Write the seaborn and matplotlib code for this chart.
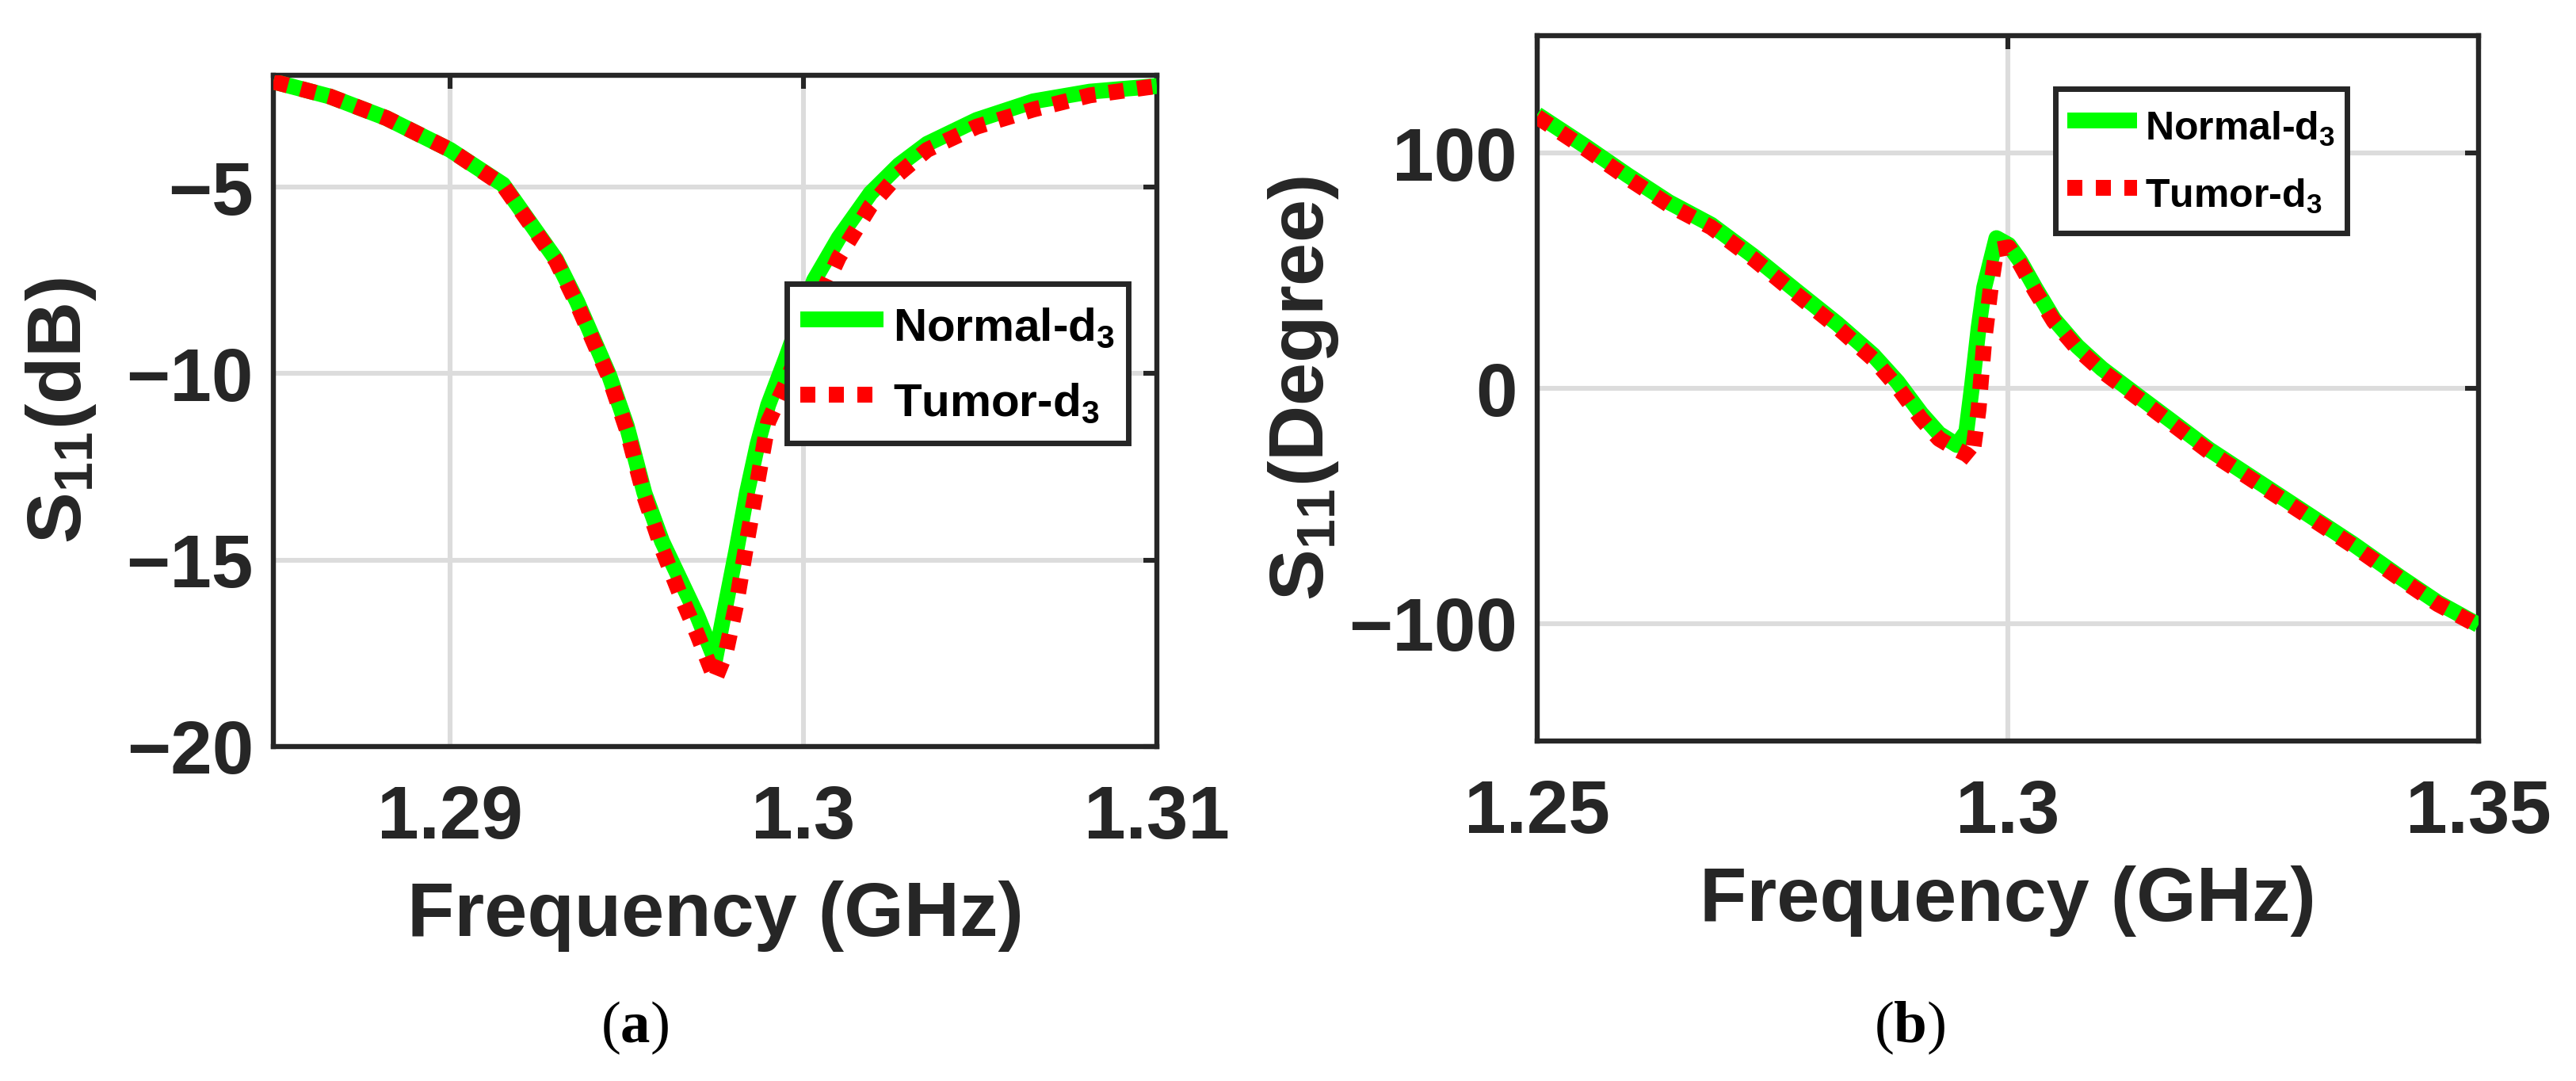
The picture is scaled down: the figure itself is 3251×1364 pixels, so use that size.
import numpy as np
import pandas as pd
import matplotlib
matplotlib.use("Agg")
import matplotlib.pyplot as plt
import seaborn as sns

# ---- data ----
# panel (a): |S11| in dB
freq_a = [1.2850, 1.2866, 1.2882, 1.2900, 1.2915, 1.2930, 1.2936, 1.2945, 1.2950,
          1.2955, 1.2960, 1.2965, 1.2970, 1.2975, 1.2978, 1.2981, 1.2984, 1.2987,
          1.2990, 1.2995, 1.3003, 1.3010, 1.3019, 1.3027, 1.3035, 1.3049, 1.3065,
          1.3081, 1.3100]
normal_a = [-2.17, -2.57, -3.15, -4.0, -4.93, -6.94, -8.08, -10.04, -11.4,
            -13.2, -14.5, -15.5, -16.5, -17.67, -16.2, -14.75, -13.2, -11.9,
            -10.85, -9.6, -7.5, -6.36, -5.16, -4.41, -3.84, -3.2, -2.7,
            -2.44, -2.29]
tumor_a = [-2.17, -2.57, -3.15, -4.0, -4.95, -6.98, -8.15, -10.1, -11.5,
           -13.3, -14.7, -15.9, -17.0, -18.2, -17.5, -16.18, -14.5, -12.9,
           -11.3, -10.27, -8.31, -6.88, -5.5, -4.64, -4.0, -3.38, -2.92,
           -2.54, -2.29]

# panel (b): phase of S11 in degrees
freq_b = [1.2500, 1.2551, 1.2596, 1.2640, 1.2685, 1.2730, 1.2774, 1.2819, 1.2857,
          1.2883, 1.2908, 1.2927, 1.2946, 1.2956, 1.2962, 1.2969, 1.2975, 1.2982,
          1.2988, 1.3001, 1.3013, 1.3029, 1.3049, 1.3074, 1.3100, 1.3138, 1.3176,
          1.3214, 1.3265, 1.3316, 1.3367, 1.3418, 1.3457, 1.3500]
normal_b = [116.5, 103.1, 90.7, 79.2, 69.6, 56.2, 41.9, 27.5, 14.2,
            2.7, -10.7, -19.3, -24.1, -18.4, 0.8, 25.6, 42.9, 54.3,
            63.9, 61.0, 54.3, 42.9, 29.5, 17.9, 8.4, -3.1, -14.5,
            -26.0, -39.4, -52.8, -66.2, -80.6, -91.1, -100.6]
tumor_b = [115.5, 102.0, 89.5, 78.0, 68.5, 55.0, 40.5, 26.0, 12.5,
           0.5, -13.0, -21.5, -26.0, -28.0, -30.0, -9.0, 20.0, 43.0,
           59.0, 60.0, 53.0, 41.5, 28.5, 16.8, 7.4, -4.0, -15.5,
           -27.0, -40.3, -53.6, -67.0, -81.3, -91.8, -101.0]

xticks_a = [1.29, 1.30, 1.31]
xticklabels_a = ["1.29", "1.3", "1.31"]
yticks_a = [-20, -15, -10, -5]
xticks_b = [1.25, 1.30, 1.35]
xticklabels_b = ["1.25", "1.3", "1.35"]
yticks_b = [-100, 0, 100]

DARK = "#262626"
GREEN = "#00ff00"
RED = "#ff0000"

sns.set_theme(style="white")
plt.rcParams["font.family"] = ["Liberation Sans", "DejaVu Sans"]
plt.rcParams["font.weight"] = "bold"
plt.rcParams["axes.labelweight"] = "bold"
plt.rcParams["mathtext.default"] = "regular"
plt.rcParams["mathtext.fontset"] = "custom"
plt.rcParams["mathtext.bf"] = "Liberation Serif:bold"
plt.rcParams["mathtext.rm"] = "Liberation Serif"

fig = plt.figure(figsize=(16.255, 6.82), dpi=200)
ax_a = fig.add_axes([0.1061, 0.3094, 0.3430, 0.6210])
ax_b = fig.add_axes([0.5967, 0.3145, 0.3654, 0.6525])


def draw_panel(ax, freq, normal, tumor):
    df = pd.DataFrame({"f": freq, "normal": normal, "tumor": tumor})
    sns.lineplot(data=df, x="f", y="normal", ax=ax, color=GREEN, linewidth=7.2,
                 estimator=None, sort=False, label="Normal-d$_3$", zorder=3,
                 solid_capstyle="butt")
    sns.lineplot(data=df, x="f", y="tumor", ax=ax, color=RED, linewidth=7.2,
                 estimator=None, sort=False, label="Tumor-d$_3$", zorder=4,
                 linestyle=(0, (0.95, 0.85)), dash_capstyle="butt")


def style_axes(ax):
    ax.grid(True, color="#dcdcdc", linewidth=2.2, zorder=0)
    ax.set_axisbelow(True)
    for sp in ax.spines.values():
        sp.set_visible(True)
        sp.set_color(DARK)
        sp.set_linewidth(2.3)
    ax.tick_params(direction="in", length=6, width=2.2, color=DARK,
                   top=True, right=True, labelsize=34, labelcolor=DARK)
    ax.tick_params(axis="x", pad=17)
    ax.tick_params(axis="y", pad=9)
    for lab in ax.get_xticklabels() + ax.get_yticklabels():
        lab.set_fontweight("bold")


draw_panel(ax_a, freq_a, normal_a, tumor_a)
ax_a.set_xlim(1.285, 1.31)
ax_a.set_ylim(-20, -2)
ax_a.set_xticks(xticks_a)
ax_a.set_xticklabels(xticklabels_a)
ax_a.set_yticks(yticks_a)
style_axes(ax_a)
ax_a.set_xlabel("Frequency (GHz)", fontsize=35, fontweight="bold", color=DARK)
ax_a.set_ylabel("S$_{11}$(dB)", fontsize=35, fontweight="bold", color=DARK)
ax_a.xaxis.set_label_coords(0.5, -0.20)
ax_a.yaxis.set_label_coords(-0.198, 0.5)

draw_panel(ax_b, freq_b, normal_b, tumor_b)
ax_b.set_xlim(1.25, 1.35)
ax_b.set_ylim(-150, 150)
ax_b.set_xticks(xticks_b)
ax_b.set_xticklabels(xticklabels_b)
ax_b.set_yticks(yticks_b)
style_axes(ax_b)
ax_b.set_xlabel("Frequency (GHz)", fontsize=35, fontweight="bold", color=DARK)
ax_b.set_ylabel("S$_{11}$(Degree)", fontsize=35, fontweight="bold", color=DARK)
ax_b.xaxis.set_label_coords(0.5, -0.176)
ax_b.yaxis.set_label_coords(-0.209, 0.5)

# legend settings: anchor, font size, handle length, handle height, label spacing
legend_opts = [
    (ax_a, (0.581, 0.6895), 21, 1.8, 1.5, 0.41),
    (ax_b, (0.551, 0.9247), 18, 1.75, 1.7, 0.34),
]
for ax, anchor, fs, hl, hh, ls in legend_opts:
    leg = ax.legend(loc="upper left", bbox_to_anchor=anchor, borderaxespad=0,
                    frameon=True, fancybox=False, handlelength=hl,
                    handleheight=hh, handletextpad=0.2, borderpad=0.3,
                    labelspacing=ls, prop={"weight": "bold", "size": fs})
    leg.get_frame().set_edgecolor(DARK)
    leg.get_frame().set_linewidth(2.5)
    leg.get_frame().set_alpha(1)
    for t in leg.get_texts():
        t.set_color("black")

fig.text(0.2464, 0.049, r"($\mathbf{a}$)", family="Liberation Serif",
         fontweight="normal", fontsize=27, ha="center", va="center", color="black")
fig.text(0.7415, 0.049, r"($\mathbf{b}$)", family="Liberation Serif",
         fontweight="normal", fontsize=27, ha="center", va="center", color="black")

fig.savefig("out.png", dpi=200, facecolor="white")
